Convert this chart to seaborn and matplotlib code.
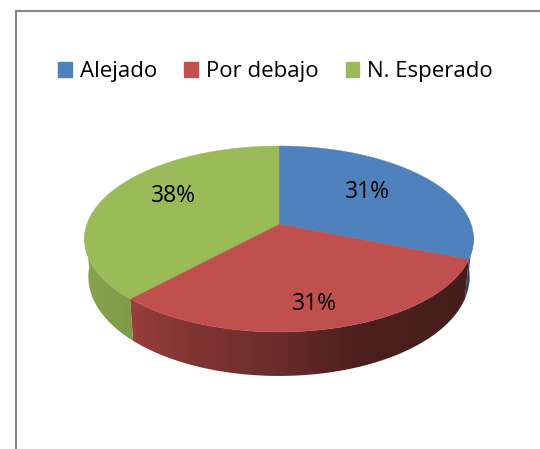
import numpy as np
import matplotlib
matplotlib.use('Agg')
import matplotlib.pyplot as plt
import matplotlib.patches as mpatches
import seaborn as sns

categories = ['Alejado', 'Por debajo', 'N. Esperado']
values = [31, 31, 38]
colors = ['#4F81BD', '#C0504D', '#9BBB59']

sns.set_theme(style='white')
plt.rcParams['font.family'] = ['Open Sans', 'DejaVu Sans']

# pie geometry in pixels, a tilted disc seen in perspective
CX, CY = 279.0, 224.0
RX, RY, PERSP = 192.0, 54.5, 0.161


def top_xy(t):
    # t = degrees clockwise from 12 o'clock
    u, v = np.sin(np.radians(t)), np.cos(np.radians(t))
    w = 1 + PERSP * v
    return CX + RX * u / w, (CY - RY * v) / w


def bottom_xy(t):
    x, y = top_xy(t)
    v = np.cos(np.radians(t))
    return CX + 0.98 * (x - CX), y + 36.5 - 7.5 * v


def side_shade(i, x):
    # shading of the rim runs left to right
    if i == 1:
        return np.interp(x, [133, 200, 279, 360, 470], [0.78, 0.66, 0.55, 0.39, 0.37])
    if i == 2:
        return np.interp(x, [84, 133], [0.88, 0.82])
    return np.full_like(x, 0.55)


fig = plt.figure(figsize=(5.4, 4.49), dpi=100)
ax = fig.add_axes([0, 0, 1, 1])

# chart frame, cut by the crop on the right and bottom
ax.plot([15.5, 15.5, 540], [449, 11, 11], color='#868686', lw=1.5, solid_joinstyle='miter')

edges = np.concatenate([[0], np.cumsum(values)]) / np.sum(values) * 360

# rim first, a horizontal gradient clipped to the outline of each slice
grad_x = np.arange(0, 541)
for i in range(len(values)):
    a, b = max(edges[i], 95), min(edges[i + 1], 266)
    if b <= a:
        continue
    ts = np.linspace(a, b, 200)
    xt, yt = top_xy(ts)
    xb, yb = bottom_xy(ts[::-1])
    outline = np.column_stack([np.r_[xt, xb], np.r_[yt, yb]])
    rgb = np.array(matplotlib.colors.to_rgb(colors[i]))
    img = side_shade(i, grad_x.astype(float))[None, :, None] * rgb[None, None, :]
    im = ax.imshow(img, extent=(0, 540, 449, 0), aspect='auto', zorder=2)
    im.set_clip_path(mpatches.Polygon(outline, closed=True, transform=ax.transData))

# top face
for i in range(len(values)):
    ts = np.linspace(edges[i], edges[i + 1], 200)
    xs, ys = top_xy(ts)
    ax.fill(np.r_[CX, xs], np.r_[CY, ys], color=colors[i], lw=0.3, zorder=3)

ax.set_xlim(0, 540)
ax.set_ylim(449, 0)
ax.axis('off')

# percent labels
label_pos = [(367, 192), (314, 304), (173, 196)]
for v, (lx, ly) in zip(values, label_pos):
    ax.text(lx, ly, f'{v}%', ha='center', va='center', fontsize=16.5, color='black', zorder=4)

handles = [mpatches.Patch(color=c, label=n) for c, n in zip(colors, categories)]
ax.legend(handles=handles, ncols=3, loc='center', bbox_to_anchor=(275.5 / 540, 1 - 72 / 449),
          frameon=False, fontsize=16, handlelength=0.62, handleheight=0.62, handletextpad=0.35,
          columnspacing=1.23, labelcolor='black', borderpad=0, borderaxespad=0)

fig.savefig('out.png', dpi=100)
